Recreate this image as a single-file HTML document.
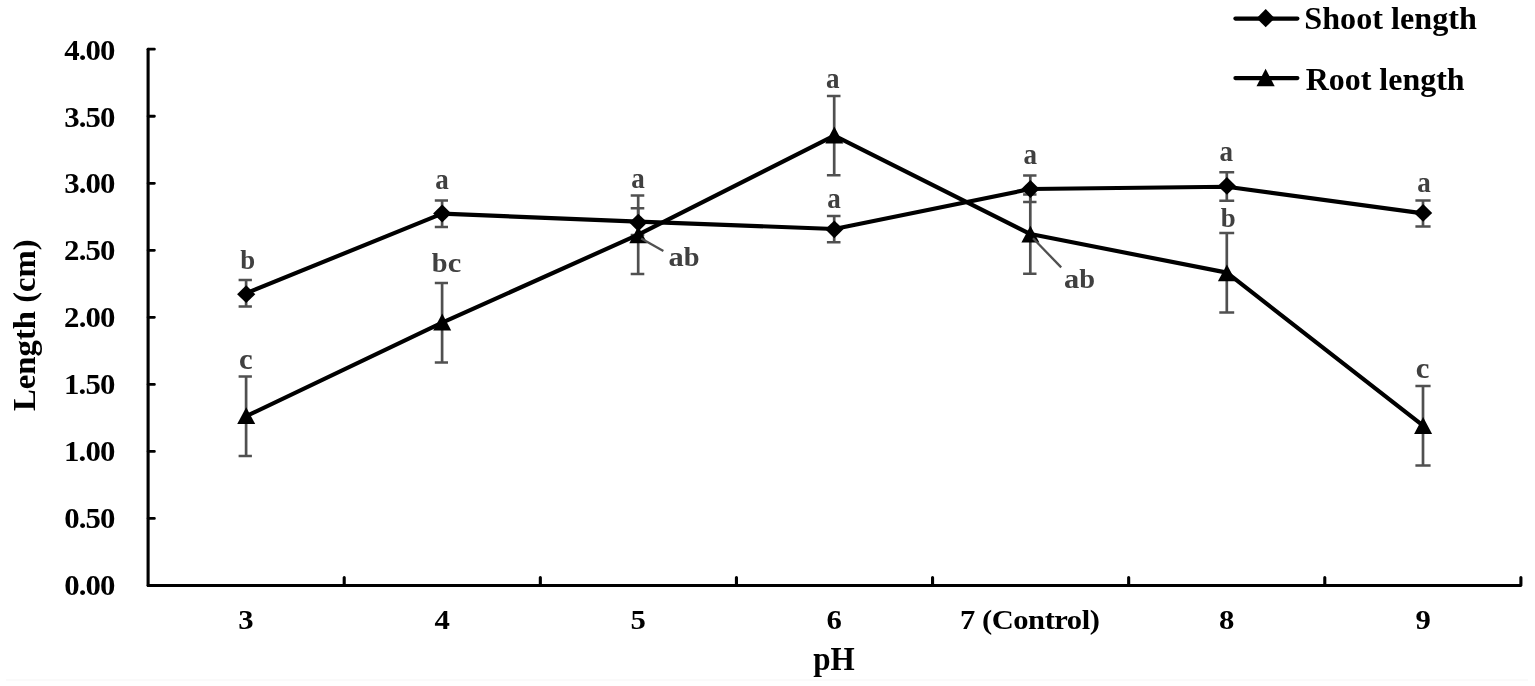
<!DOCTYPE html>
<html lang="en"><head><meta charset="utf-8"><title>Shoot and root length vs pH</title>
<style>
html,body{margin:0;padding:0;background:#fff;}
body{width:1535px;height:686px;overflow:hidden;}
svg{display:block;}
text{font-family:"Liberation Serif",serif;font-weight:bold;}
</style></head><body>
<svg width="1535" height="686" viewBox="0 0 1535 686">
<rect width="1535" height="686" fill="#fff"/>
<line x1="6" y1="680" x2="1528" y2="680" stroke="#f8f8f8" stroke-width="1.5"/>

<g stroke="#000" fill="none" stroke-linecap="round" stroke-linejoin="round">
<path stroke-width="3.1" d="M148.1 49.2V585.5"/>
<path stroke-width="2.8" d="M148.1 585.5H1520.9"/>
<path stroke-width="2.8" d="M148.1 518.46h6.3M148.1 451.43h6.3M148.1 384.39h6.3M148.1 317.35h6.3M148.1 250.31h6.3M148.1 183.28h6.3M148.1 116.24h6.3M148.1 49.20h6.3"/>
<path stroke-width="3.1" d="M344.21 584.5V577.60M540.33 584.5V577.60M736.44 584.5V577.60M932.56 584.5V577.60M1128.67 584.5V577.60M1324.79 584.5V577.60M1520.90 584.5V577.60"/>
</g>
<g stroke="#505050" fill="none">
<path stroke-width="2.7" d="M246.10 279.90V306.40"/><path stroke-width="2.5" d="M238.60 280.00H251.90M238.60 306.50H251.90"/>
<path stroke-width="2.7" d="M442.10 200.40V226.90"/><path stroke-width="2.5" d="M434.80 200.50H448.00M434.80 227.00H448.00"/>
<path stroke-width="2.7" d="M638.20 208.20V235.00"/><path stroke-width="2.5" d="M630.70 208.30H644.30M630.70 235.10H644.30"/>
<path stroke-width="2.7" d="M834.20 215.80V242.20"/><path stroke-width="2.5" d="M826.90 215.90H840.50M826.90 242.30H840.50"/>
<path stroke-width="2.7" d="M1030.30 175.40V201.80"/><path stroke-width="2.5" d="M1023.10 175.50H1036.50M1023.10 201.90H1036.50"/>
<path stroke-width="2.7" d="M1226.80 172.10V200.70"/><path stroke-width="2.5" d="M1219.30 172.20H1234.20M1219.30 200.80H1234.20"/>
<path stroke-width="2.7" d="M1423.00 200.30V226.40"/><path stroke-width="2.5" d="M1415.40 200.40H1430.60M1415.40 226.50H1430.60"/>
<path stroke-width="2.7" d="M246.10 376.50V455.90"/><path stroke-width="2.5" d="M238.60 376.60H251.90M238.60 456.00H251.90"/>
<path stroke-width="2.7" d="M442.10 282.90V362.40"/><path stroke-width="2.5" d="M434.80 283.00H448.00M434.80 362.50H448.00"/>
<path stroke-width="2.7" d="M638.20 195.50V273.80"/><path stroke-width="2.5" d="M630.70 195.60H644.30M630.70 273.90H644.30"/>
<path stroke-width="2.7" d="M834.20 95.90V175.20"/><path stroke-width="2.5" d="M826.90 96.00H840.50M826.90 175.30H840.50"/>
<path stroke-width="2.7" d="M1030.30 194.50V273.60"/><path stroke-width="2.5" d="M1023.10 194.60H1036.50M1023.10 273.70H1036.50"/>
<path stroke-width="2.7" d="M1226.80 232.90V312.40"/><path stroke-width="2.5" d="M1219.30 233.00H1234.20M1219.30 312.50H1234.20"/>
<path stroke-width="2.7" d="M1423.00 386.00V465.30"/><path stroke-width="2.5" d="M1415.40 386.10H1430.60M1415.40 465.40H1430.60"/>
</g>
<polyline points="246.20,293.15 442.20,213.65 638.30,221.60 834.30,229.00 1030.40,189.00 1226.90,186.80 1423.10,213.35" fill="none" stroke="#000" stroke-width="4.15" stroke-linecap="round" stroke-linejoin="round"/>
<polyline points="246.20,416.20 442.20,322.65 638.30,234.65 834.30,135.55 1030.40,234.05 1226.90,272.65 1423.10,425.65" fill="none" stroke="#000" stroke-width="4.15" stroke-linecap="round" stroke-linejoin="round"/>
<path d="M246.20 285.30L255.30 294.20L246.20 303.10L237.10 294.20Z" fill="#000"/>
<path d="M442.20 204.60L451.30 213.50L442.20 222.40L433.10 213.50Z" fill="#000"/>
<path d="M638.30 213.70L647.40 222.60L638.30 231.50L629.20 222.60Z" fill="#000"/>
<path d="M834.30 220.40L843.40 229.30L834.30 238.20L825.20 229.30Z" fill="#000"/>
<path d="M1030.40 180.10L1039.50 189.00L1030.40 197.90L1021.30 189.00Z" fill="#000"/>
<path d="M1226.90 177.00L1236.00 185.90L1226.90 194.80L1217.80 185.90Z" fill="#000"/>
<path d="M1423.10 204.00L1432.20 212.90L1423.10 221.80L1414.00 212.90Z" fill="#000"/>
<path d="M246.20 407.20L255.20 424.10H237.20Z" fill="#000"/>
<path d="M442.20 313.60L451.20 330.50H433.20Z" fill="#000"/>
<path d="M638.30 226.30L647.30 243.20H629.30Z" fill="#000"/>
<path d="M834.30 126.60L843.30 143.50H825.30Z" fill="#000"/>
<path d="M1030.40 225.70L1039.40 242.60H1021.40Z" fill="#000"/>
<path d="M1226.90 264.40L1235.90 281.30H1217.90Z" fill="#000"/>
<path d="M1423.10 417.00L1432.10 433.90H1414.10Z" fill="#000"/>
<g stroke="#505050" stroke-width="2.3" fill="none">
<path d="M641.2 238.5L663.4 250.9"/>
<path d="M1033 238.2L1061.2 267.4"/>
</g>
<text transform="translate(64.13 595.00) scale(1.0850 1)" font-size="28.4" letter-spacing="-0.824" fill="#000">0.00</text>
<text transform="translate(64.13 528.00) scale(1.0850 1)" font-size="28.4" letter-spacing="-0.824" fill="#000">0.50</text>
<text transform="translate(64.06 461.00) scale(1.0850 1)" font-size="28.4" letter-spacing="-0.804" fill="#000">1.00</text>
<text transform="translate(64.06 394.00) scale(1.0850 1)" font-size="28.4" letter-spacing="-0.804" fill="#000">1.50</text>
<text transform="translate(64.12 327.00) scale(1.0850 1)" font-size="28.4" letter-spacing="-0.823" fill="#000">2.00</text>
<text transform="translate(64.12 260.00) scale(1.0850 1)" font-size="28.4" letter-spacing="-0.823" fill="#000">2.50</text>
<text transform="translate(64.13 193.00) scale(1.0850 1)" font-size="28.4" letter-spacing="-0.824" fill="#000">3.00</text>
<text transform="translate(64.13 127.00) scale(1.0850 1)" font-size="28.4" letter-spacing="-0.824" fill="#000">3.50</text>
<text transform="translate(64.17 60.00) scale(1.0850 1)" font-size="28.4" letter-spacing="-0.836" fill="#000">4.00</text>
<text transform="translate(238.35 629.00) scale(1.0900 1)" font-size="28.2" fill="#000">3</text>
<text transform="translate(434.49 629.00) scale(1.0900 1)" font-size="28.2" fill="#000">4</text>
<text transform="translate(630.47 629.00) scale(1.0900 1)" font-size="28.2" fill="#000">5</text>
<text transform="translate(826.44 629.00) scale(1.0900 1)" font-size="28.2" fill="#000">6</text>
<text transform="translate(960.06 629.00) scale(1.0850 1)" font-size="28.2" letter-spacing="-0.448" fill="#000">7 (Control)</text>
<text transform="translate(1219.12 629.00) scale(1.0900 1)" font-size="28.2" fill="#000">8</text>
<text transform="translate(1415.45 629.00) scale(1.0900 1)" font-size="28.2" fill="#000">9</text>
<text transform="translate(813.30 669.80) scale(0.9051 1)" font-size="34.4" fill="#000">pH</text>
<text transform="translate(34.5 410.96) rotate(-90) scale(1.0065 1)" font-size="32.5" fill="#000">Length (cm)</text>
<text transform="translate(240.17 269.05) scale(1.0200 1)" font-size="26.30" fill="#404040">b</text>
<text transform="translate(239.08 368.76) scale(1.0600 1)" font-size="29.00" fill="#404040">c</text>
<text transform="translate(435.25 189.20) scale(0.9400 1)" font-size="28.80" fill="#404040">a</text>
<text transform="translate(431.87 271.50) scale(1.0800 1)" fill="#404040"><tspan font-size="26.30">b</tspan><tspan font-size="28.20">c</tspan></text>
<text transform="translate(631.26 187.68) scale(0.9400 1)" font-size="28.80" fill="#404040">a</text>
<text transform="translate(668.41 265.98) scale(1.0800 1)" fill="#404040"><tspan font-size="28.20">a</tspan><tspan font-size="26.30">b</tspan></text>
<text transform="translate(826.10 87.50) scale(0.9400 1)" font-size="28.80" fill="#404040">a</text>
<text transform="translate(827.25 207.64) scale(0.9400 1)" font-size="28.80" fill="#404040">a</text>
<text transform="translate(1023.56 164.19) scale(0.9400 1)" font-size="28.80" fill="#404040">a</text>
<text transform="translate(1064.06 287.65) scale(1.0800 1)" fill="#404040"><tspan font-size="28.20">a</tspan><tspan font-size="26.30">b</tspan></text>
<text transform="translate(1219.60 161.29) scale(0.9400 1)" font-size="28.80" fill="#404040">a</text>
<text transform="translate(1220.85 226.57) scale(1.0200 1)" font-size="26.30" fill="#404040">b</text>
<text transform="translate(1417.25 192.28) scale(0.9400 1)" font-size="28.80" fill="#404040">a</text>
<text transform="translate(1415.87 378.27) scale(1.0600 1)" font-size="29.00" fill="#404040">c</text>
<g stroke="#000" stroke-width="4.15" stroke-linecap="round"><path d="M1235.4 18.6H1297.4"/><path d="M1235.4 78.1H1297.4"/></g>
<path d="M1265.70 9.10L1274.80 18.20L1265.70 27.30L1256.60 18.20Z" fill="#000"/>
<path d="M1265.60 68.70L1274.70 86.30H1256.50Z" fill="#000"/>
<text transform="translate(1304.29 28.60) scale(1.0450 1)" font-size="30.8" fill="#000">Shoot length</text>
<text transform="translate(1305.66 89.80) scale(1.0384 1)" font-size="30.8" fill="#000">Root length</text>
</svg></body></html>
